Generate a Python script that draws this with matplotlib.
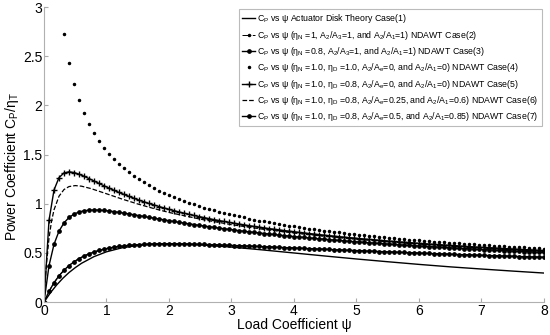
import numpy as np
import matplotlib
matplotlib.use('Agg')
import matplotlib.pyplot as plt

plt.rcParams['font.family'] = ['Liberation Sans', 'DejaVu Sans']
plt.rcParams['mathtext.fontset'] = 'custom'
plt.rcParams['mathtext.rm'] = 'Liberation Sans'
plt.rcParams['mathtext.default'] = 'rm'

# load coefficient grid (markers every 0.08)
psi = np.linspace(0, 8, 101)

# case 1: actuator disk, plain line
psi_disk = [0, 0.1, 0.2, 0.3, 0.4, 0.5, 0.6, 0.8, 1, 1.25, 1.5, 1.75, 2, 2.5, 3, 3.5,
            4, 4.5, 5, 5.5, 6, 6.5, 7, 7.5, 8]
cp_case1 = [0, 0.093, 0.173, 0.242, 0.301, 0.351, 0.395, 0.463, 0.512, 0.553, 0.577,
            0.589, 0.593, 0.583, 0.560, 0.531, 0.500, 0.469, 0.439, 0.411, 0.384,
            0.359, 0.337, 0.316, 0.296]

# cases 2 and 3 fall on the same curve
cp_case23 = [0.000, 0.110, 0.197, 0.268, 0.325, 0.372, 0.410, 0.443, 0.469, 0.491,
             0.510, 0.526, 0.539, 0.550, 0.559, 0.566, 0.572, 0.578, 0.582, 0.585,
             0.588, 0.590, 0.591, 0.592, 0.592, 0.593, 0.592, 0.592, 0.591, 0.591,
             0.589, 0.588, 0.587, 0.585, 0.584, 0.582, 0.580, 0.578, 0.576, 0.574,
             0.572, 0.570, 0.568, 0.566, 0.564, 0.562, 0.560, 0.557, 0.555, 0.553,
             0.551, 0.549, 0.546, 0.544, 0.542, 0.540, 0.538, 0.536, 0.533, 0.531,
             0.529, 0.527, 0.525, 0.523, 0.521, 0.519, 0.517, 0.515, 0.513, 0.511,
             0.509, 0.507, 0.505, 0.503, 0.501, 0.499, 0.497, 0.495, 0.493, 0.491,
             0.490, 0.488, 0.486, 0.484, 0.482, 0.481, 0.479, 0.477, 0.475, 0.474,
             0.472, 0.470, 0.469, 0.467, 0.466, 0.464, 0.462, 0.461, 0.459, 0.458,
             0.456]

# case 4 starts at psi = 0.32 (earlier points are above the axis)
cp_case4 = [2.722, 2.434, 2.222, 2.057, 1.925, 1.814, 1.721, 1.641, 1.571, 1.510,
            1.455, 1.406, 1.361, 1.320, 1.283, 1.249, 1.217, 1.188, 1.161, 1.135,
            1.111, 1.089, 1.068, 1.048, 1.029, 1.011, 0.994, 0.978, 0.962, 0.948,
            0.934, 0.920, 0.907, 0.895, 0.883, 0.872, 0.861, 0.850, 0.840, 0.830,
            0.821, 0.811, 0.803, 0.794, 0.786, 0.778, 0.770, 0.762, 0.755, 0.748,
            0.741, 0.734, 0.727, 0.721, 0.715, 0.709, 0.703, 0.697, 0.691, 0.686,
            0.680, 0.675, 0.670, 0.665, 0.660, 0.655, 0.651, 0.646, 0.642, 0.637,
            0.633, 0.629, 0.624, 0.620, 0.616, 0.612, 0.609, 0.605, 0.601, 0.598,
            0.594, 0.590, 0.587, 0.584, 0.580, 0.577, 0.574, 0.571, 0.568, 0.564,
            0.561, 0.559, 0.556, 0.553, 0.550, 0.547, 0.544]

cp_case5 = [0.000, 0.831, 1.140, 1.266, 1.314, 1.325, 1.318, 1.301, 1.280, 1.256,
            1.232, 1.207, 1.183, 1.160, 1.137, 1.115, 1.095, 1.075, 1.056, 1.037,
            1.020, 1.003, 0.988, 0.972, 0.958, 0.944, 0.930, 0.917, 0.905, 0.893,
            0.881, 0.870, 0.860, 0.849, 0.839, 0.830, 0.820, 0.811, 0.803, 0.794,
            0.786, 0.778, 0.770, 0.763, 0.755, 0.748, 0.741, 0.735, 0.728, 0.722,
            0.716, 0.709, 0.704, 0.698, 0.692, 0.687, 0.681, 0.676, 0.671, 0.666,
            0.661, 0.656, 0.652, 0.647, 0.642, 0.638, 0.634, 0.630, 0.625, 0.621,
            0.617, 0.613, 0.610, 0.606, 0.602, 0.598, 0.595, 0.591, 0.588, 0.585,
            0.581, 0.578, 0.575, 0.572, 0.568, 0.565, 0.562, 0.559, 0.556, 0.554,
            0.551, 0.548, 0.545, 0.542, 0.540, 0.537, 0.535, 0.532, 0.530, 0.527,
            0.525]

# case 6: dashed line only
psi_dash = [0, 0.02, 0.04, 0.08, 0.12, 0.16, 0.24, 0.32, 0.4, 0.5, 0.6, 0.75, 1, 1.25,
            1.5, 1.75, 2, 2.5, 3, 3.5, 4, 4.5, 5, 5.5, 6, 6.5, 7, 7.5, 8]
cp_case6 = [0, 0.220, 0.394, 0.650, 0.821, 0.938, 1.077, 1.145, 1.175, 1.185, 1.179,
            1.155, 1.102, 1.048, 0.998, 0.953, 0.912, 0.844, 0.788, 0.742, 0.703,
            0.669, 0.640, 0.614, 0.591, 0.571, 0.552, 0.535, 0.520]

cp_case7 = [0.000, 0.370, 0.588, 0.722, 0.806, 0.861, 0.895, 0.917, 0.929, 0.935,
            0.937, 0.936, 0.932, 0.927, 0.920, 0.913, 0.905, 0.897, 0.888, 0.880,
            0.871, 0.862, 0.854, 0.845, 0.837, 0.828, 0.820, 0.812, 0.804, 0.796,
            0.789, 0.781, 0.774, 0.767, 0.760, 0.753, 0.746, 0.740, 0.734, 0.727,
            0.721, 0.715, 0.710, 0.704, 0.698, 0.693, 0.688, 0.682, 0.677, 0.672,
            0.667, 0.662, 0.658, 0.653, 0.649, 0.644, 0.640, 0.636, 0.631, 0.627,
            0.623, 0.619, 0.615, 0.612, 0.608, 0.604, 0.601, 0.597, 0.594, 0.590,
            0.587, 0.583, 0.580, 0.577, 0.574, 0.571, 0.568, 0.565, 0.562, 0.559,
            0.556, 0.553, 0.550, 0.547, 0.545, 0.542, 0.539, 0.537, 0.534, 0.532,
            0.529, 0.527, 0.524, 0.522, 0.519, 0.517, 0.515, 0.513, 0.510, 0.508,
            0.506]

labels = [
    'C$_P$ vs ψ Actuator Disk Theory Case(1)',
    'C$_P$ vs ψ (η$_N$ =1, A$_2$/A$_3$=1, and A$_2$/A$_1$=1) NDAWT Case(2)',
    'C$_P$ vs ψ (η$_N$ =0.8, A$_2$/A$_3$=1, and A$_2$/A$_1$=1) NDAWT Case(3)',
    'C$_P$ vs ψ (η$_N$ =1.0, η$_D$ =1.0, A$_2$/A$_e$=0, and A$_2$/A$_1$=0) NDAWT Case(4)',
    'C$_P$ vs ψ (η$_N$ =1.0, η$_D$ =0.8, A$_2$/A$_e$=0, and A$_2$/A$_1$=0) NDAWT Case(5)',
    'C$_P$ vs ψ (η$_N$ =1.0, η$_D$ =0.8, A$_2$/A$_e$=0.25, and A$_2$/A$_1$=0.6) NDAWT Case(6)',
    'C$_P$ vs ψ (η$_N$ =1.0, η$_D$ =0.8, A$_2$/A$_e$=0.5, and A$_2$/A$_1$=0.85) NDAWT Case(7)',
]

fig = plt.figure(figsize=(5.5, 3.35), dpi=100)
ax = fig.add_axes([0.08, 0.098, 0.909, 0.881])

ax.plot(psi_disk, cp_case1, '-', color='k', lw=1.0, label=labels[0])
ax.plot(psi, cp_case23, '-.', color='k', lw=0.7, marker='.', ms=3, label=labels[1])
ax.plot(psi, cp_case23, '-', color='k', lw=1.0, marker='o', ms=2.4, label=labels[2])
ax.plot(psi[4:], cp_case4, ls='none', color='k', marker='.', ms=3, label=labels[3])
ax.plot(psi, cp_case5, '-', color='k', lw=1.0, marker='+', ms=4.5, mew=1.0, label=labels[4])
ax.plot(psi_dash, cp_case6, '--', color='k', lw=0.9, label=labels[5])
ax.plot(psi, cp_case7, '-', color='k', lw=1.0, marker='o', ms=2.4, label=labels[6])

ax.set_xlim(0, 8)
ax.set_ylim(0, 3)
ax.set_xticks(range(0, 9))
ax.set_yticks([0, 0.5, 1, 1.5, 2, 2.5, 3])
ax.set_yticklabels(['0', '0.5', '1', '1.5', '2', '2.5', '3'])
ax.tick_params(direction='in', length=3, color='#aaaaaa', labelsize=10, pad=1)
for s in ['top', 'right']:
    ax.spines[s].set_visible(False)
for s in ['left', 'bottom']:
    ax.spines[s].set_color('#b0b0b0')
    ax.spines[s].set_linewidth(0.8)

ax.set_xlabel('Load Coefficient ψ', fontsize=10, labelpad=0)
ax.set_ylabel('Power Coefficient C$_P$/η$_T$', fontsize=10)
ax.yaxis.set_label_coords(-0.046, 0.46)

leg = ax.legend(loc='upper right', fontsize=6.3, frameon=True, fancybox=False,
                handlelength=1.5, handletextpad=0.25, labelspacing=0.38,
                borderpad=0.35, borderaxespad=0.25)
leg.get_frame().set_edgecolor('#aaaaaa')
leg.get_frame().set_linewidth(0.8)

fig.savefig('out.png', dpi=100)
